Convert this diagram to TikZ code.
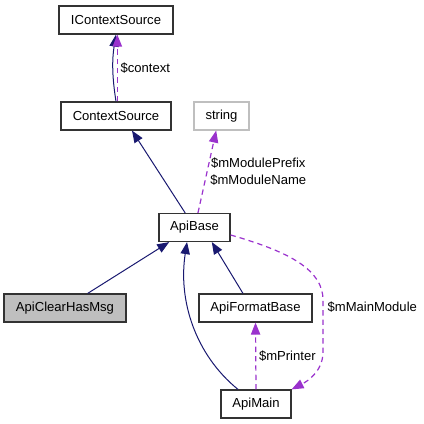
\documentclass[tikz,border=0pt]{standalone}
\usepackage{fontspec}
\setmainfont{Liberation Sans}
\usetikzlibrary{arrows.meta}
\definecolor{navy}{RGB}{25,25,112}
\definecolor{orchid}{RGB}{154,50,205}
\definecolor{boxgray}{RGB}{191,191,191}

\begin{document}
\begin{tikzpicture}[x=0.75pt,y=-0.75pt]
  \tikzstyle{cls}=[draw=black!80,line width=0.9pt,inner sep=0pt,minimum height=21pt,font=\fontsize{9.8}{12}\selectfont]
  \tikzstyle{inh}=[draw=navy,line width=0.75pt,-{Triangle[length=9pt,width=7pt]}]
  \tikzstyle{use}=[draw=orchid,line width=0.9pt,dash pattern=on 4pt off 3pt,-{Triangle[length=9pt,width=7pt]}]
  \tikzstyle{lab}=[font=\fontsize{9.8}{12.75}\selectfont,text=black,inner sep=2pt]
  \useasboundingbox (0,0) rectangle (424,424);
  \node [cls,minimum width=85.5pt] (icontext) at (116,20) {IContextSource} ;
  \node [cls,minimum width=82.5pt] (context) at (116,116) {ContextSource} ;
  \node [cls,minimum width=41.25pt,draw=boxgray] (string) at (221.5,116) {string} ;
  \node [cls,minimum width=53.25pt] (apibase) at (194.5,227.5) {ApiBase} ;
  \node [cls,minimum width=91.5pt,fill=boxgray] (apiclear) at (65,308) {ApiClearHasMsg} ;
  \node [cls,minimum width=84.75pt] (apiformat) at (255.5,308) {ApiFormatBase} ;
  \node [cls,minimum width=52.5pt] (apimain) at (256,404) {ApiMain} ;
  % inheritance
  \draw [inh] (context.north) .. controls +(-4,-25) and +(-4,25) .. (icontext.south) ;
  \path ([xshift=-7pt]apibase.north) edge [inh] ([xshift=12pt]context.south) ;
  \path ([xshift=17pt]apiclear.north) edge [inh] ([xshift=-19pt]apibase.south) ;
  \path ([xshift=-9.4pt]apiformat.north) edge [inh] ([xshift=13pt]apibase.south) ;
  \draw [inh] ([xshift=-13.5pt]apimain.north) .. controls +(-43,-35) and +(-9,58) .. ([xshift=-5.6pt]apibase.south) ;
  % members
  \path ([xshift=1pt]context.north) edge [use] node[lab,right] {\$context} ([xshift=1pt]icontext.south) ;
  \path ([xshift=2.6pt]apibase.north) edge [use] node[lab,right,align=center] {\$mModulePrefix\\\$mModuleName} ([xshift=-4pt]string.south) ;
  \path (apimain.north) edge [use] node[lab,right] {\$mPrinter} (apiformat.south) ;
  \draw [use] ([yshift=-5.6pt]apibase.east) .. controls (290,252) and (323,270) .. (323,300)
    -- (323,307) node[lab,right,inner sep=3pt] {\$mMainModule} -- (323,352)
    .. controls (323,372) and (306,382) .. (apimain.north east) ;
\end{tikzpicture}
\end{document}
